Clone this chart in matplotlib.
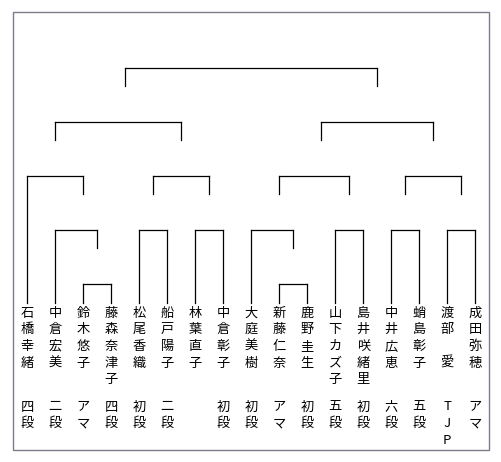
import math
import matplotlib.pyplot as plt
from matplotlib.patches import Rectangle

plt.rcParams['font.family'] = ['Noto Sans CJK JP', 'DejaVu Sans']

# 出場者（左から順）
names = ['石橋幸緒', '中倉宏美', '鈴木悠子', '藤森奈津子', '松尾香織', '船戸陽子',
         '林葉直子', '中倉彰子', '大庭美樹', '新藤仁奈', '鹿野圭生', '山下カズ子',
         '島井咲緒里', '中井広恵', '蛸島彰子', '渡部　愛', '成田弥穂']
ranks = ['四段', '二段', 'アマ', '四段', '初段', '二段', '', '初段', '初段', 'アマ',
         '初段', '五段', '初段', '六段', '五段', 'TJP', 'アマ']

# トーナメントの組み合わせ（選手番号の入れ子）
bracket = (((0, (1, (2, 3))), ((4, 5), (6, 7))),
           (((8, (9, 10)), (11, 12)), ((13, 14), (15, 16))))

X0, DX = 27.3, 28.0       # 選手列の位置 (px)
Y_TOP, DY = 68.3, 54.0    # 各段の横線の高さ
LEG = 18.0                # 縦線の長さ
NAME_TOP = 303.0
NAME_Y, LINE_H = 313.0, 16.7
RANK_Y, RANK_H = 407.0, 16.7

fig = plt.figure(figsize=(5.02, 4.62), dpi=100)
ax = fig.add_axes([0, 0, 1, 1])
ax.set_xlim((0 - X0) / DX, (502 - X0) / DX)
ax.set_ylim(462, 0)
ax.axis('off')

lw = 0.9


def draw(node, depth):
    # 位置を返す（選手番号の単位）
    if isinstance(node, int):
        return node, True
    left, lp = draw(node[0], depth + 1)
    right, rp = draw(node[1], depth + 1)
    y = Y_TOP + depth * DY
    ax.plot([left, right], [y, y], color='black', lw=lw, solid_capstyle='projecting')
    for pos, is_player in ((left, lp), (right, rp)):
        y2 = NAME_TOP if is_player else y + LEG
        ax.plot([pos, pos], [y, y2], color='black', lw=lw)
    mid = math.ceil((left + right)) / 2
    return mid, False


draw(bracket, 0)

for i, (nm, rk) in enumerate(zip(names, ranks)):
    for k, ch in enumerate(nm):
        if ch != '　':
            ax.text(i, NAME_Y + k * LINE_H, ch, ha='center', va='center', fontsize=9.5)
    for k, ch in enumerate(rk):
        ax.text(i, RANK_Y + k * RANK_H, ch, ha='center', va='center', fontsize=9.5)

# 外枠
x_l = (13 - X0) / DX
x_r = (489 - X0) / DX
ax.add_patch(Rectangle((x_l, 12), x_r - x_l, 438, fill=False,
                       edgecolor='#7f7d8c', lw=1.0))

fig.savefig('out.png', dpi=100)
